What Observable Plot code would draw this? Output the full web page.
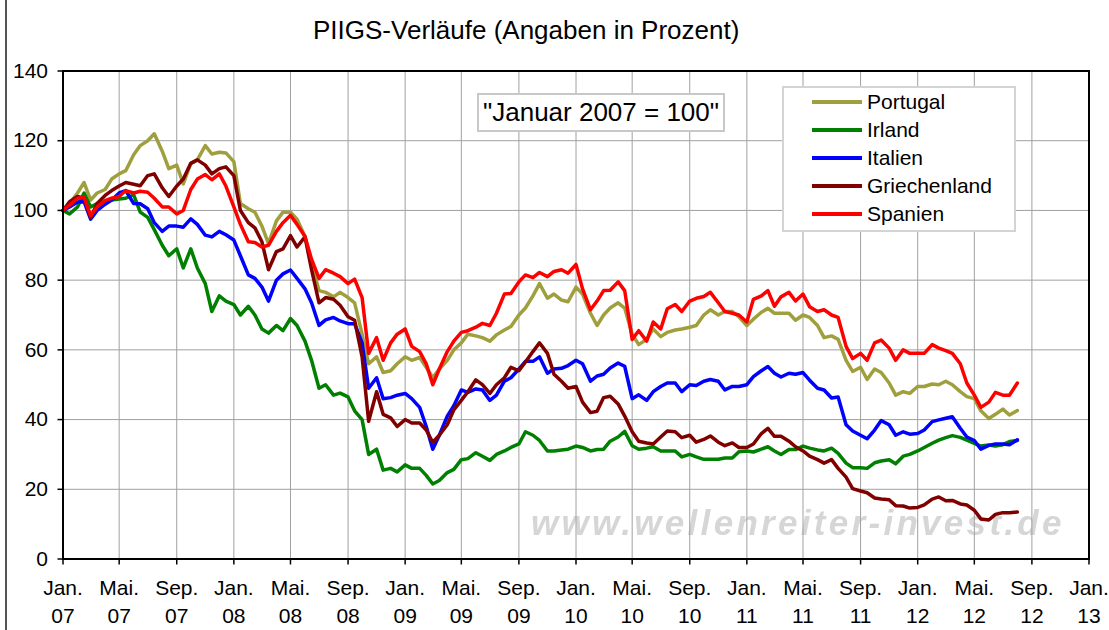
<!DOCTYPE html>
<html><head><meta charset="utf-8">
<script src="https://cdn.jsdelivr.net/npm/d3@7"></script>
<script src="https://cdn.jsdelivr.net/npm/@observablehq/plot@0.6"></script>
<style>
body{margin:0;background:#fff;font-family:"Liberation Sans",Arial,sans-serif;}
#wrap{position:relative;width:1109px;height:630px;overflow:hidden;background:#fff;}
#border{position:absolute;left:5px;top:0;width:2px;height:630px;background:#555;}
#title{position:absolute;left:0;top:17px;width:1058px;text-align:center;font-size:26px;line-height:26px;color:#000;white-space:nowrap;}
#title span{position:absolute;left:313px;}
#wm{position:absolute;left:531px;top:505px;font-size:35px;line-height:35px;font-style:italic;font-weight:bold;letter-spacing:3.3px;color:#d6d6d6;white-space:nowrap;filter:blur(0.7px);}
#chart{position:absolute;left:0;top:0;}
#note{position:absolute;left:477px;top:93px;width:248px;height:39px;box-sizing:border-box;border:2px solid #c8c8c8;background:#fff;font-size:26px;line-height:35px;text-align:center;white-space:nowrap;}
#legend{position:absolute;left:782px;top:86px;width:234px;height:146px;box-sizing:border-box;border:2px solid #d4d4d4;background:#fff;}
.sw{position:absolute;left:28px;width:50px;height:4px;}
.lt{position:absolute;left:83px;font-size:21px;line-height:21px;white-space:nowrap;}
</style></head><body>
<div id="wrap">
  <div id="border"></div>
  <div id="wm">www.wellenreiter-invest.de</div>
  <div id="chart"></div>
  <div id="title"><span>PIIGS-Verläufe (Angaben in Prozent)</span></div>
  <div id="note">"Januar 2007 = 100"</div>
  <div id="legend"></div>
</div>
<script>
// Semi-monthly observation dates: 1st and 15th of each month, Jan 2007 .. Aug 2012
const dates = [];
for (let y = 2007; y <= 2012; y++) for (let m = 0; m < 12; m++) for (const d of [1, 15]) {
  if (y === 2012 && (m > 7 || (m === 7 && d === 15))) continue;
  dates.push(new Date(Date.UTC(y, m, d)));
}

const seriesNames = ["Portugal", "Irland", "Italien", "Griechenland", "Spanien"];
const seriesColors = ["#a09f3e", "#008000", "#0000ff", "#800000", "#ff0000"];

const portugal = [
  100,102,105,108,103,105,106,109,110.5,111.4,116,118.6,120,122,117,112,113,107.6,113.5,114.5,118.6,116.2,116.7,116.5,
  114,102,100.5,99.5,95.5,90.5,97,99.5,99.5,97.5,92.5,85,77,76.5,75.2,76.5,75,73.5,64.5,56,58,53.5,54,56,
  58,57,57.8,55,52,54.5,57,60,62,64.5,64,63.5,62.5,64.3,65.7,66.7,70,72,75.5,79,74.8,76,74.3,73.8,
  78,76,70.5,67,70,72,73.5,72,64.5,61.5,63,66,63.8,65,65.7,66,66.5,67,70,71.5,70,71,71,69.5,
  67,68.8,70.8,71.9,70.5,70.5,70.5,68.5,70,69.3,67,63.5,64,63,57,53.8,55,51.5,54.5,53.5,50.5,47,48,47.5,
  49.5,49.5,50.2,50,51,50,48,46.6,46,42.5,40.3,41.5,43,41.3,42.6
];
const irland = [
  100,99,101,105,101,102,102.5,103,103.3,103.5,104.5,99.5,98,94.5,90,87,89,83.5,89,83.5,79,71,75.5,74,
  73,70,72.5,70,66,64.8,67,65.5,69,67,62.5,57,49,50,47,47.6,46.5,42.5,40,30,31.5,25.5,26,25,
  27,26,26,24,21.5,22.5,24.8,25.7,28.5,28.8,30.5,29.5,28.3,30,31,32,33,36.5,35.5,34,31,31,31.3,31.5,
  32.4,32,31,31.4,31.5,33.8,35,36.6,32.5,31.5,31.8,32.2,31,31,31,29.3,30,29.3,28.6,28.6,28.6,29,29,30.8,
  31,30.7,31.5,32.2,31,30,31.4,31.4,32.4,31.8,31.3,31,31.8,30.3,27.5,26.2,26.2,26,27.6,28.1,28.5,27.3,29.5,30,
  31,32,33.2,34.1,34.8,35.4,34.9,34.1,33.2,32.4,32.7,32.4,32.8,33.7,34
];
const italien = [
  100,101,102.4,102.5,97.5,100,101.8,103,105,105.7,102,101.9,100.5,96.5,94,95.5,95.5,95.2,97.6,96,92.9,92.4,94,93,
  91.5,87,81.5,80.5,78,74,80,81.8,82.9,80.5,77.5,73.5,67,68.6,69.3,68.3,67.5,67.5,62,49,52,46,46.3,47,
  47.5,46,43.5,38,31.5,35.5,41,44,48.5,47.8,48.8,48.5,45.5,47,51,52,54.5,56.7,56.7,58,53.3,54.5,54.7,55.5,
  57,56,51,52.5,53,54.8,56.2,55.3,46,47.1,45.5,48,49.5,50.5,50.5,48,50,49.8,51,51.5,51,48.5,49.5,49.5,
  50,52.3,54,55.2,53.3,52.2,53.3,53,53.5,51.3,49,48.5,46.2,46.5,38.5,36.7,35.5,34.5,37,39.7,38.5,35.5,36.5,35.8,
  36,37,39.4,39.9,40.4,40.8,37.5,35,34,31.5,32.6,33,33,32.8,34.2
];
const griechenland = [
  100,102.5,104,103.5,98,102,104.3,105.7,107,108,107.5,107.1,110,110.5,106.5,104,107,109,113.5,114.5,113,110.5,112,112.5,
  110,100,96.5,95,91,83,88.2,89,92.8,89.5,92.4,83,73.5,75,74.5,72.8,69.5,68.5,58,39.5,48,41.5,40.5,38,
  40,39,39,37,33.5,35.5,38.5,42.8,45.5,48,51.4,50,47.5,50,52,55,54,56.5,59.5,62,59,53,51,49,
  49.5,45,42,42.4,46.3,46.7,44.5,41,36.5,33.8,33.3,33,35,36.7,36.5,34.8,35.5,33.5,34.3,35.3,33.5,32.5,33.3,32,
  32,33,36,37.5,35.2,35.2,33.8,32.2,31,29.5,28.5,27.5,28.5,26,23.5,20.2,19.5,19,17.5,17.2,17,15.3,15.2,14.6,
  14.8,15.5,17.2,17.8,16.7,16.8,15.8,15.5,14,11.5,11.2,12.8,13.3,13.3,13.5
];
const spanien = [
  100,101.5,103.5,103.8,98.5,101,102.8,103.5,104,105.7,105,105.5,105.2,103.5,101,101,99,100,106,109,110.3,108.8,110.5,107,
  101,96,91,90.8,89.5,90,94,96.5,98.6,96,92.5,86,80.5,83,82,81,79,80.3,75,59,63.5,57,62,64.5,
  66,61,59.5,56,50,54.5,59.5,62.5,65,65.5,66.5,67.6,67,70.5,76,76.2,79.5,81.5,80.7,82.2,81,82.5,83,82,
  84.5,77.5,71.5,74,77,77.1,79.5,77,63,65.5,62.5,68,66,71.8,73,71,74,74.8,75.3,76.5,73.5,71,70.5,70,
  68,74.5,75.5,77,72.5,75.2,76.5,74,76,72.4,71,71.5,70,69.3,61,57.5,59,57,62,62.8,60.5,57,60,59,
  59,59,61.5,60.5,59.8,59,56,50.5,47,43.5,45,47.8,47,47,50.5
];
const seriesValues = [portugal, irland, italien, griechenland, spanien];

const tickDates = ["2007-01","2007-05","2007-09","2008-01","2008-05","2008-09","2009-01","2009-05","2009-09",
  "2010-01","2010-05","2010-09","2011-01","2011-05","2011-09","2012-01","2012-05","2012-09","2013-01"]
  .map(s => new Date(s + "-01T00:00:00Z"));
const monthLabels = {0: "Jan.", 4: "Mai.", 8: "Sep."};
const yTicks = [0, 20, 40, 60, 80, 100, 120, 140];

const lineMarks = seriesValues.map((vals, i) =>
  Plot.line(vals.map((v, j) => ({date: dates[j], value: v})),
    {x: "date", y: "value", stroke: seriesColors[i], strokeWidth: 3.5, strokeLinejoin: "round", strokeLinecap: "round"}));

const chart = Plot.plot({
  width: 1109, height: 630,
  marginLeft: 62.5, marginRight: 20.5, marginTop: 70.5, marginBottom: 71.5,
  style: {background: "transparent", fontFamily: "'Liberation Sans', Arial, sans-serif", fontSize: "21px", color: "black"},
  x: {type: "utc", domain: [tickDates[0], tickDates[tickDates.length - 1]]},
  y: {domain: [0, 140]},
  marks: [
    Plot.gridX(tickDates, {stroke: "#a0a0a0", strokeOpacity: 1, strokeWidth: 1}),
    Plot.gridY(yTicks, {stroke: "#a0a0a0", strokeOpacity: 1, strokeWidth: 1}),
    ...lineMarks,
    Plot.frame({stroke: "black", strokeWidth: 2}),
    Plot.axisX(tickDates, {
      tickFormat: d => monthLabels[d.getUTCMonth()] + "\n" + String(d.getUTCFullYear()).slice(2),
      tickSize: 6, tickPadding: 10, fontSize: 21, lineHeight: 1.35, stroke: "black", strokeWidth: 1.5, label: null
    }),
    Plot.axisY(yTicks, {tickSize: 5, tickPadding: 10, fontSize: 21, stroke: "black", strokeWidth: 1.5, label: null})
  ]
});
document.getElementById("chart").appendChild(chart);

// Legend
const legend = document.getElementById("legend");
const rowCenters = [14.3, 42, 70.3, 98, 126];
seriesNames.forEach((name, i) => {
  const sw = document.createElement("div");
  sw.className = "sw";
  sw.style.top = (rowCenters[i] - 2) + "px";
  sw.style.background = seriesColors[i];
  legend.appendChild(sw);
  const t = document.createElement("div");
  t.className = "lt";
  t.style.top = (rowCenters[i] - 11) + "px";
  t.textContent = name;
  legend.appendChild(t);
});
</script>
</body></html>
